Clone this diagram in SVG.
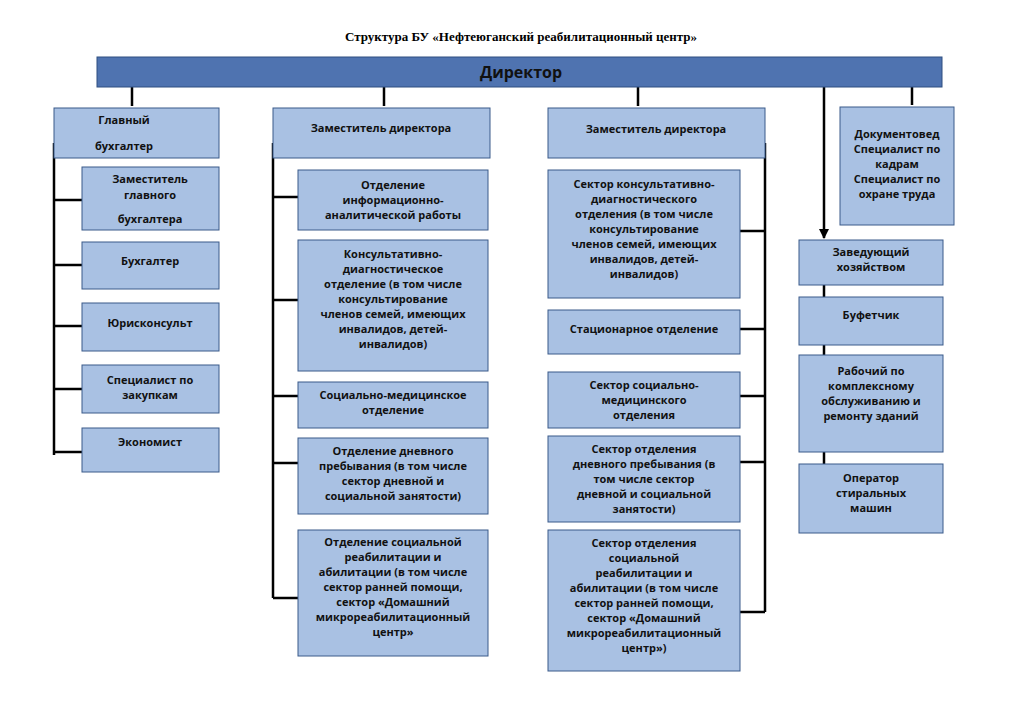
<svg xmlns="http://www.w3.org/2000/svg" width="1024" height="725" viewBox="0 0 1024 725">
<style>
.b{fill:#a9c1e3;stroke:#3a5a8a;stroke-width:1}
.t{font-family:"Open Sans","DejaVu Sans",sans-serif;font-weight:700;font-size:11px;fill:#111;text-anchor:middle}
.c{stroke:#000;stroke-width:2.5;fill:none}
</style>
<defs><marker id="a" viewBox="0 0 10 10" refX="5" refY="9" markerWidth="4" markerHeight="4" orient="auto-start-reverse" markerUnits="strokeWidth"><path d="M0,0L10,0L5,10z" fill="#000" transform="rotate(0)"/></marker>
<marker id="d" viewBox="0 0 10 10" refX="9" refY="5" markerWidth="4" markerHeight="4" orient="auto"><path d="M0,0L10,5L0,10z" fill="#000"/></marker></defs>
<rect width="1024" height="725" fill="#fff"/>
<text x="521" y="41" font-family="Liberation Serif,serif" font-weight="700" font-size="13" text-anchor="middle">Структура БУ «Нефтеюганский реабилитационный центр»</text>
<g id="connectors">
<path class="c" d="M132,87V106M384,87V106M638,87V106M912,87V105M824,87V238" marker-end="url(#d)"/>
<path class="c" d="M54,143V455M54,200H82M54,265H82M54,326H82M54,389H82M54,452H82"/>
<path class="c" d="M273,143V598M273,197H298M273,300H298M273,396H298M273,463H298M273,598H298"/>
<path class="c" d="M765,143V612M740,231H765M740,329H765M740,396H765M740,462H765M740,612H765"/>
<path class="c" d="M824,285V297M824,345V355M824,452V464"/>
</g>
<g id="director"><rect x="97" y="57" width="845" height="30" fill="#4f73b0" stroke="#2f4f80"/><text x="521" y="78" font-family="Open Sans,DejaVu Sans,sans-serif" font-weight="700" font-size="16" text-anchor="middle" fill="#111">Директор</text></g>
<g id="gb"><rect class="b" x="54" y="108" width="165" height="50"/><text class="t" x="124" y="124">Главный</text><text class="t" x="124" y="150">бухгалтер</text></g>
<g id="zgb"><rect class="b" x="82" y="167" width="137" height="63"/><text class="t" x="150" y="183">Заместитель</text><text class="t" x="150" y="199">главного</text><text class="t" x="150" y="223">бухгалтера</text></g>
<g id="buh"><rect class="b" x="82" y="242" width="137" height="47"/><text class="t" x="150" y="265">Бухгалтер</text></g>
<g id="jur"><rect class="b" x="82" y="303" width="137" height="48"/><text class="t" x="150" y="327">Юрисконсульт</text></g>
<g id="zak"><rect class="b" x="82" y="365" width="137" height="48"/><text class="t" x="150" y="384">Специалист по</text><text class="t" x="150" y="399">закупкам</text></g>
<g id="eco"><rect class="b" x="82" y="428" width="137" height="44"/><text class="t" x="150" y="446">Экономист</text></g>
<g id="zd1"><rect class="b" x="273" y="108" width="217" height="50"/><text class="t" x="381" y="132">Заместитель директора</text></g>
<g id="n21"><rect class="b" x="298" y="170" width="190" height="60"/><text class="t" x="393" y="189">Отделение</text><text class="t" x="393" y="204">информационно-</text><text class="t" x="393" y="219">аналитической работы</text></g>
<g id="n22"><rect class="b" x="298" y="240" width="190" height="131"/><text class="t" x="393" y="258">Консультативно-</text><text class="t" x="393" y="273">диагностическое</text><text class="t" x="393" y="288">отделение (в том числе</text><text class="t" x="393" y="303">консультирование</text><text class="t" x="393" y="318">членов семей, имеющих</text><text class="t" x="393" y="333">инвалидов, детей-</text><text class="t" x="393" y="348">инвалидов)</text></g>
<g id="n23"><rect class="b" x="298" y="382" width="190" height="46"/><text class="t" x="393" y="399">Социально-медицинское</text><text class="t" x="393" y="414">отделение</text></g>
<g id="n24"><rect class="b" x="298" y="438" width="190" height="76"/><text class="t" x="393" y="455">Отделение дневного</text><text class="t" x="393" y="470">пребывания (в том числе</text><text class="t" x="393" y="485">сектор дневной и</text><text class="t" x="393" y="500">социальной занятости)</text></g>
<g id="n25"><rect class="b" x="298" y="530" width="190" height="126"/><text class="t" x="393" y="546">Отделение социальной</text><text class="t" x="393" y="561">реабилитации и</text><text class="t" x="393" y="576">абилитации (в том числе</text><text class="t" x="393" y="591">сектор ранней помощи,</text><text class="t" x="393" y="606">сектор «Домашний</text><text class="t" x="393" y="621">микрореабилитационный</text><text class="t" x="393" y="636">центр»</text></g>
<g id="zd2"><rect class="b" x="548" y="108" width="217" height="50"/><text class="t" x="656" y="133">Заместитель директора</text></g>
<g id="n31"><rect class="b" x="548" y="170" width="192" height="128"/><text class="t" x="644" y="188">Сектор консультативно-</text><text class="t" x="644" y="203">диагностического</text><text class="t" x="644" y="218">отделения (в том числе</text><text class="t" x="644" y="233">консультирование</text><text class="t" x="644" y="248">членов семей, имеющих</text><text class="t" x="644" y="263">инвалидов, детей-</text><text class="t" x="644" y="278">инвалидов)</text></g>
<g id="n32"><rect class="b" x="548" y="310" width="192" height="44"/><text class="t" x="644" y="333">Стационарное отделение</text></g>
<g id="n33"><rect class="b" x="548" y="372" width="192" height="56"/><text class="t" x="644" y="389">Сектор социально-</text><text class="t" x="644" y="404">медицинского</text><text class="t" x="644" y="419">отделения</text></g>
<g id="n34"><rect class="b" x="548" y="436" width="192" height="86"/><text class="t" x="644" y="453">Сектор отделения</text><text class="t" x="644" y="468">дневного пребывания (в</text><text class="t" x="644" y="483">том числе сектор</text><text class="t" x="644" y="498">дневной и социальной</text><text class="t" x="644" y="513">занятости)</text></g>
<g id="n35"><rect class="b" x="548" y="530" width="192" height="141"/><text class="t" x="644" y="547">Сектор отделения</text><text class="t" x="644" y="562">социальной</text><text class="t" x="644" y="577">реабилитации и</text><text class="t" x="644" y="592">абилитации (в том числе</text><text class="t" x="644" y="607">сектор ранней помощи,</text><text class="t" x="644" y="622">сектор «Домашний</text><text class="t" x="644" y="637">микрореабилитационный</text><text class="t" x="644" y="652">центр»)</text></g>
<g id="doc"><rect class="b" x="840" y="107" width="114" height="118"/><text class="t" x="897" y="138">Документовед</text><text class="t" x="897" y="153">Специалист по</text><text class="t" x="897" y="168">кадрам</text><text class="t" x="897" y="183">Специалист по</text><text class="t" x="897" y="198">охране труда</text></g>
<g id="zh"><rect class="b" x="799" y="240" width="144" height="45"/><text class="t" x="871" y="256">Заведующий</text><text class="t" x="871" y="271">хозяйством</text></g>
<g id="buf"><rect class="b" x="799" y="297" width="144" height="48"/><text class="t" x="871" y="319">Буфетчик</text></g>
<g id="rab"><rect class="b" x="799" y="355" width="144" height="97"/><text class="t" x="871" y="375">Рабочий по</text><text class="t" x="871" y="390">комплексному</text><text class="t" x="871" y="405">обслуживанию и</text><text class="t" x="871" y="420">ремонту зданий</text></g>
<g id="op"><rect class="b" x="799" y="464" width="144" height="69"/><text class="t" x="871" y="482">Оператор</text><text class="t" x="871" y="497">стиральных</text><text class="t" x="871" y="512">машин</text></g>
</svg>
